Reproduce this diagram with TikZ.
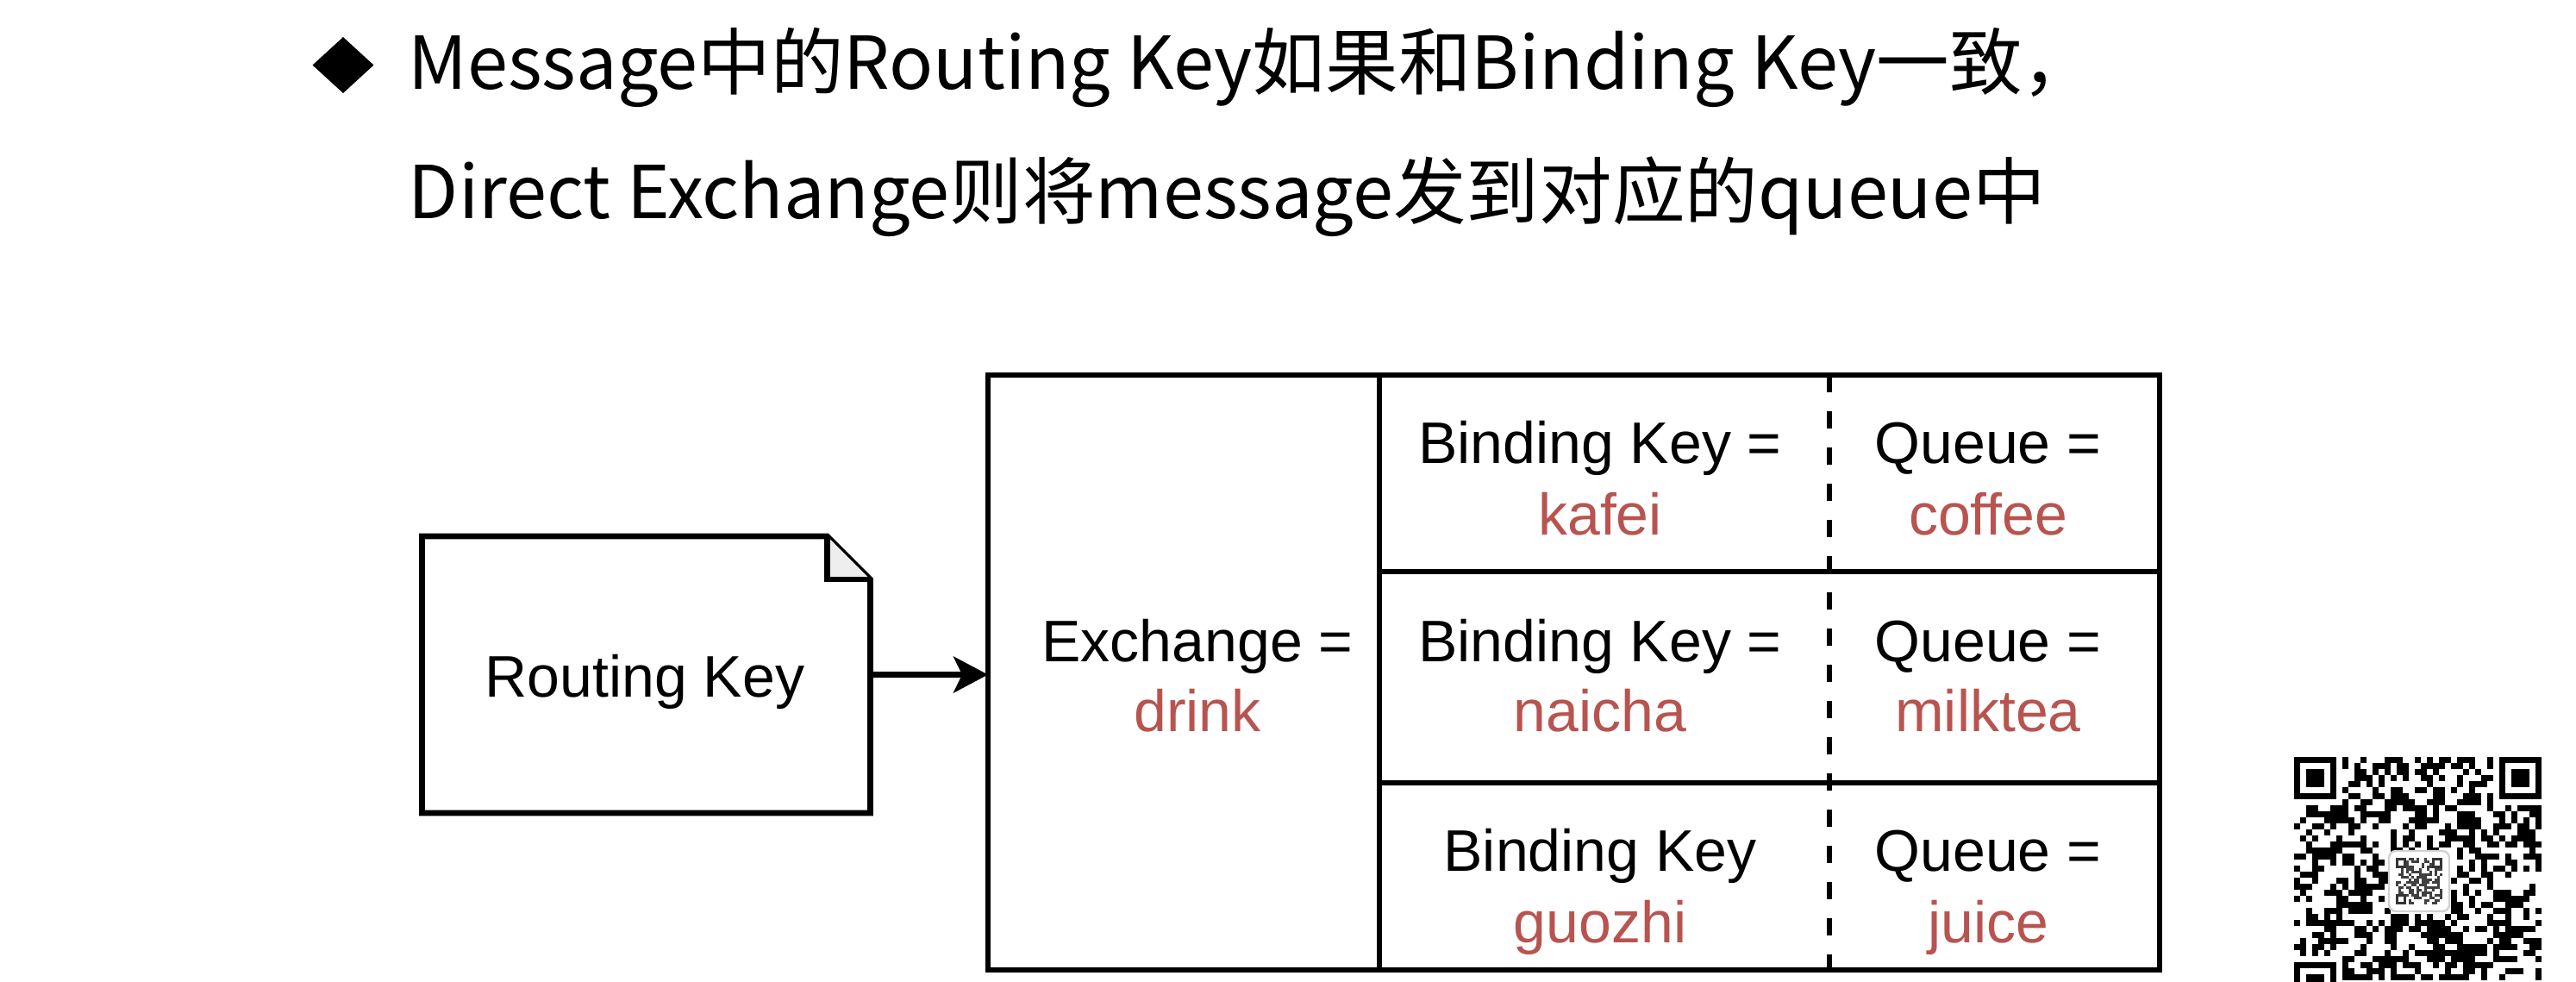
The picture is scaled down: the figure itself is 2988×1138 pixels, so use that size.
\documentclass[tikz,border=0pt]{standalone}
\usepackage{fontspec}
\newfontfamily\arialf{Liberation Sans}
\newfontfamily\cjkf{Noto Sans CJK SC}
\usetikzlibrary{arrows.meta}
\definecolor{keyred}{HTML}{B85450}
\definecolor{foldgray}{HTML}{EEEEEE}
\begin{document}
\begin{tikzpicture}[x=0.25pt,y=-0.25pt,
  box/.style={draw, line width=1.65pt, inner sep=0pt, outer sep=0pt},
  lbl/.style={font=\arialf\fontsize{17}{20.4}\selectfont, anchor=base, inner sep=0pt},
  val/.style={lbl, text=keyred},
  ttl/.style={font=\cjkf\fontsize{21.15}{25}\selectfont, anchor=base west, inner sep=0pt},
  link/.style={line width=1.65pt, -{Stealth[length=10pt,width=10.5pt,inset=2.5pt]}},
  qdash/.style={line width=1.65pt, dash pattern=on 5pt off 5.5pt},
]
\useasboundingbox (0,0) rectangle (2988,1138);
\fill[white] (0,0) rectangle (2988,1138);

% title
\fill (398,43) -- (433.5,75.5) -- (398,108) -- (362.5,75.5) -- cycle;
\node[ttl] (t1) at (473,103) {Message中的Routing Key如果和Binding Key一致，};
\node[ttl] (t2) at (473,253) {Direct Exchange则将message发到对应的queue中};

% document
\node[minimum width=130pt, minimum height=80.25pt, inner sep=0pt, outer sep=0pt] (doc) at (749.5,782.5) {};
\draw[line width=1.65pt] (doc.north west) -- ([xshift=-12.5pt]doc.north east) -- ([yshift=-12.5pt]doc.north east) -- (doc.south east) -- (doc.south west) -- cycle;
\fill[foldgray] ([xshift=-12.5pt]doc.north east) -- ([yshift=-12.5pt]doc.north east) -- ([xshift=-12.5pt,yshift=-12.5pt]doc.north east) -- cycle;
\draw[line width=1.65pt] ([xshift=-12.5pt]doc.north east) -- ([xshift=-12.5pt,yshift=-12.5pt]doc.north east) -- ([yshift=-12.5pt]doc.north east);
\node[lbl] (rk) at (748,808) {Routing Key};

% table
\node[box, minimum width=113.5pt, minimum height=172.5pt] (exch) at (1373,780) {};
\node[box, minimum width=226.25pt, minimum height=57pt] (r1) at (2052.5,549) {};
\node[box, minimum width=226.25pt, minimum height=61.25pt] (r2) at (2052.5,785.5) {};
\node[box, minimum width=226.25pt, minimum height=54.25pt] (r3) at (2052.5,1016.5) {};
\coordinate (dtop) at (2122,435);
\coordinate (dbot) at (2122,1125);
\draw[qdash] (dtop) -- (dbot);

\draw[link] (doc.east) -- (doc.east -| exch.west);

\node[lbl] (xl) at (1389,767) {Exchange =};
\node[val] (xv) at (1389,848) {drink};
\node[lbl] (b1) at (1856,537) {Binding Key =};
\node[val] (b1v) at (1856,620) {kafei};
\node[lbl] (q1) at (2306,537) {Queue =};
\node[val] (q1v) at (2306,620) {coffee};
\node[lbl] (b2) at (1856,767) {Binding Key =};
\node[val] (b2v) at (1856,848) {naicha};
\node[lbl] (q2) at (2306,767) {Queue =};
\node[val] (q2v) at (2306,848) {milktea};
\node[lbl] (b3) at (1856,1010) {Binding Key};
\node[val] (b3v) at (1856,1093) {guozhi};
\node[lbl] (q3) at (2306,1010) {Queue =};
\node[val] (q3v) at (2306,1093) {juice};

% QR code (watermark)
\begin{scope}
\clip (0,0) rectangle (2988,1138);
\pgfmathsetseed{4242}
\foreach \i in {0,...,40}{\foreach \j in {0,...,36}{
  \pgfmathtruncatemacro\qs{((\i<8)&&(\j<8))||((\i>32)&&(\j<8))||((\i<8)&&(\j>32))||((\i>15)&&(\i<26)&&(\j>15)&&(\j<26))}
  \ifnum\qs=0
    \pgfmathtruncatemacro\qr{random(0,1)}
    \ifnum\qr=1 \fill (2661+7*\i,878+7*\j) rectangle ++(7.4,7.4); \fi
  \fi
}}
\foreach \ox/\oy in {0/0,34/0,0/34}{
  \fill (2661+7*\ox,878+7*\oy) rectangle ++(49,49);
  \fill[white] (2668+7*\ox,885+7*\oy) rectangle ++(35,35);
  \fill (2675+7*\ox,892+7*\oy) rectangle ++(21,21);
}
\node[draw=gray!35, line width=0.6pt, fill=white, rounded corners=2pt, minimum size=17.5pt, inner sep=0pt] (logo) at (2806,1022) {};
\foreach \i in {0,...,17}{\foreach \j in {0,...,17}{
  \pgfmathtruncatemacro\ms{((\i<4)&&(\j<4))||((\i>13)&&(\j<4))||((\i<4)&&(\j>13))}
  \ifnum\ms=0
    \pgfmathtruncatemacro\mr{random(0,1)}
    \ifnum\mr=1 \fill[black!75] (2779+3*\i,995+3*\j) rectangle ++(3.2,3.2); \fi
  \fi
}}
\foreach \ox/\oy in {0/0,14/0,0/14}{
  \fill[black!80] (2779+3*\ox,995+3*\oy) rectangle ++(12,12);
  \fill[white] (2782+3*\ox,998+3*\oy) rectangle ++(6,6);
}
\end{scope}
\end{tikzpicture}
\end{document}
